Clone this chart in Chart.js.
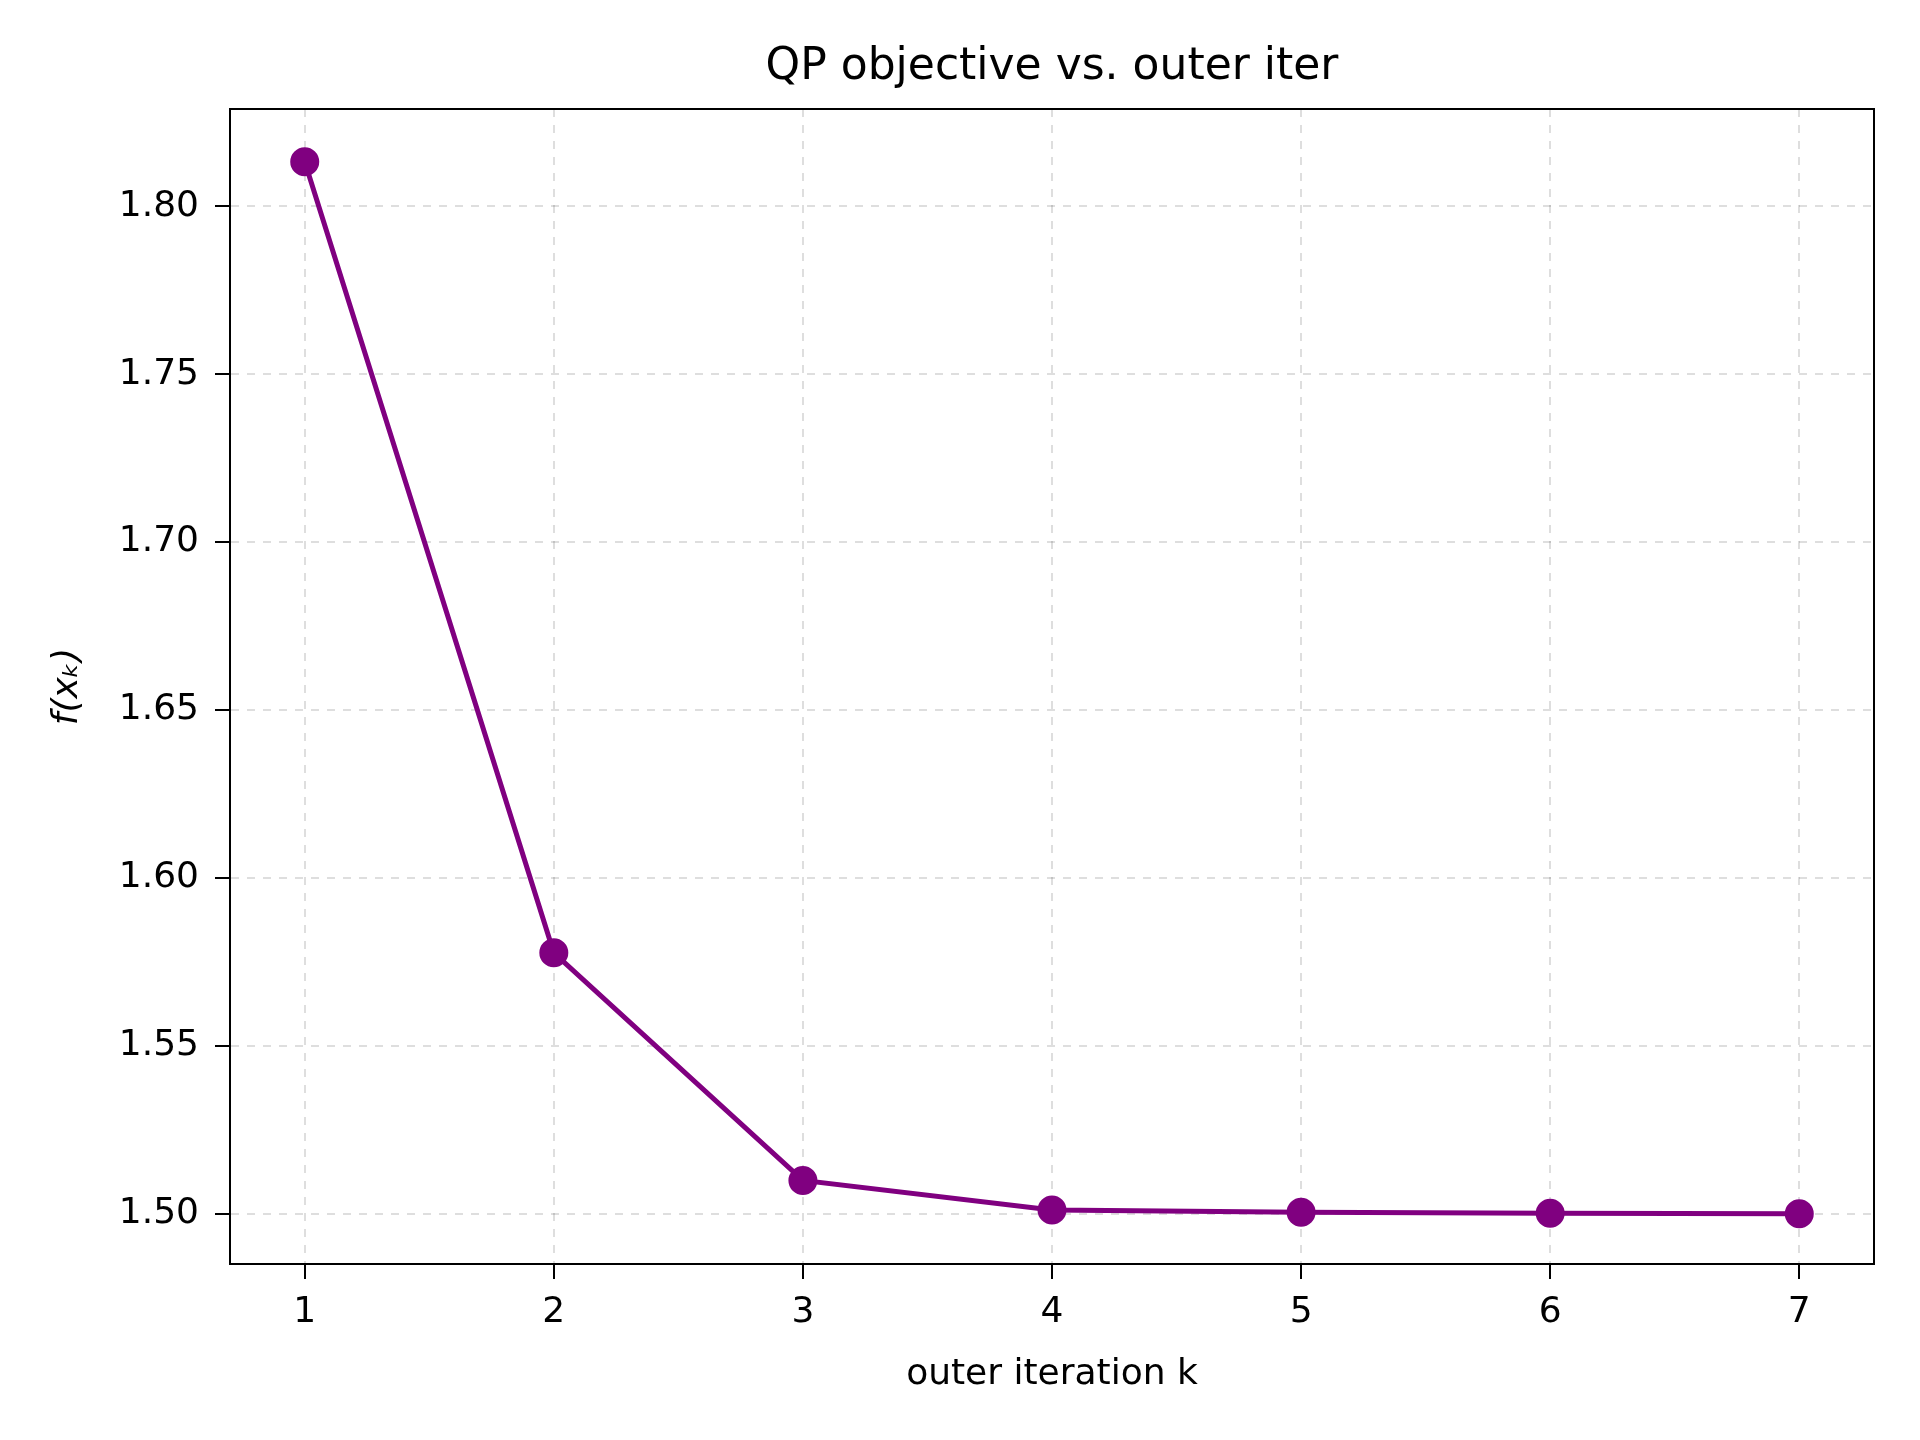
<!DOCTYPE html>
<html>
<head>
<meta charset="utf-8">
<script src="https://cdn.jsdelivr.net/npm/chart.js@4/dist/chart.umd.min.js"></script>
<style>html,body{margin:0;background:#fff}</style>
</head>
<body>
<canvas id="c" width="1920" height="1440"></canvas>
<script>
const iters = [1, 2, 3, 4, 5, 6, 7];
const objective = [1.8133, 1.5777, 1.5099, 1.5011, 1.5004, 1.5001, 1.5000];
const xTicks = [1, 2, 3, 4, 5, 6, 7];
const yTicks = [1.50, 1.55, 1.60, 1.65, 1.70, 1.75, 1.80];
const chartTitle = 'QP objective vs. outer iter';

const FONT = "'DejaVu Sans', sans-serif";
Chart.defaults.font.family = FONT;
Chart.defaults.color = '#000';

// black frame round the plot area + title centred over the axes
const frame = {
  id: 'frame',
  afterDraw(chart) {
    const { ctx, chartArea: a } = chart;
    ctx.save();
    ctx.strokeStyle = '#000'; ctx.lineWidth = 2; ctx.setLineDash([]);
    ctx.strokeRect(a.left, a.top, a.right - a.left, a.bottom - a.top);
    ctx.fillStyle = '#000';
    ctx.font = `44px ${FONT}`;
    ctx.textAlign = 'center'; ctx.textBaseline = 'middle';
    ctx.fillText(chartTitle, (a.left + a.right) / 2, 68);
    ctx.restore();
  }
};

const gridOpts = { color: 'rgba(0,0,0,0.13)', lineWidth: 2, tickLength: 15, tickColor: '#000', tickWidth: 2 };

new Chart(document.getElementById('c'), {
  type: 'line',
  data: {
    datasets: [{
      data: iters.map((x, i) => ({ x, y: objective[i] })),
      borderColor: '#800080', backgroundColor: '#800080',
      borderWidth: 5, pointRadius: 12, pointHoverRadius: 12, tension: 0
    }]
  },
  options: {
    responsive: false, animation: false,
    layout: { padding: { left: 0, right: 46, top: 109, bottom: 44 } },
    plugins: { legend: { display: false }, tooltip: { enabled: false } },
    scales: {
      x: {
        type: 'linear', min: 0.7, max: 7.3,
        afterBuildTicks: (s) => { s.ticks = xTicks.map((v) => ({ value: v })); },
        afterFit: (s) => { s.height = 132; },
        ticks: { font: { size: 36 }, padding: 12 },
        grid: gridOpts,
        border: { display: true, color: '#000', width: 2, dash: [8, 8] },
        title: { display: true, text: 'outer iteration k', font: { size: 36 }, padding: 0 }
      },
      y: {
        min: 1.485, max: 1.829,
        afterBuildTicks: (s) => { s.ticks = yTicks.map((v) => ({ value: v })); },
        afterFit: (s) => { s.width = 230; },
        ticks: { font: { size: 36 }, padding: 16, callback: (v) => v.toFixed(2) },
        grid: gridOpts,
        border: { display: true, color: '#000', width: 2, dash: [8, 8] },
        title: { display: true, text: 'f(xₖ)', font: { size: 36, style: 'italic' }, padding: { top: 46, bottom: 0 } }
      }
    }
  },
  plugins: [frame]
});
</script>
</body>
</html>
